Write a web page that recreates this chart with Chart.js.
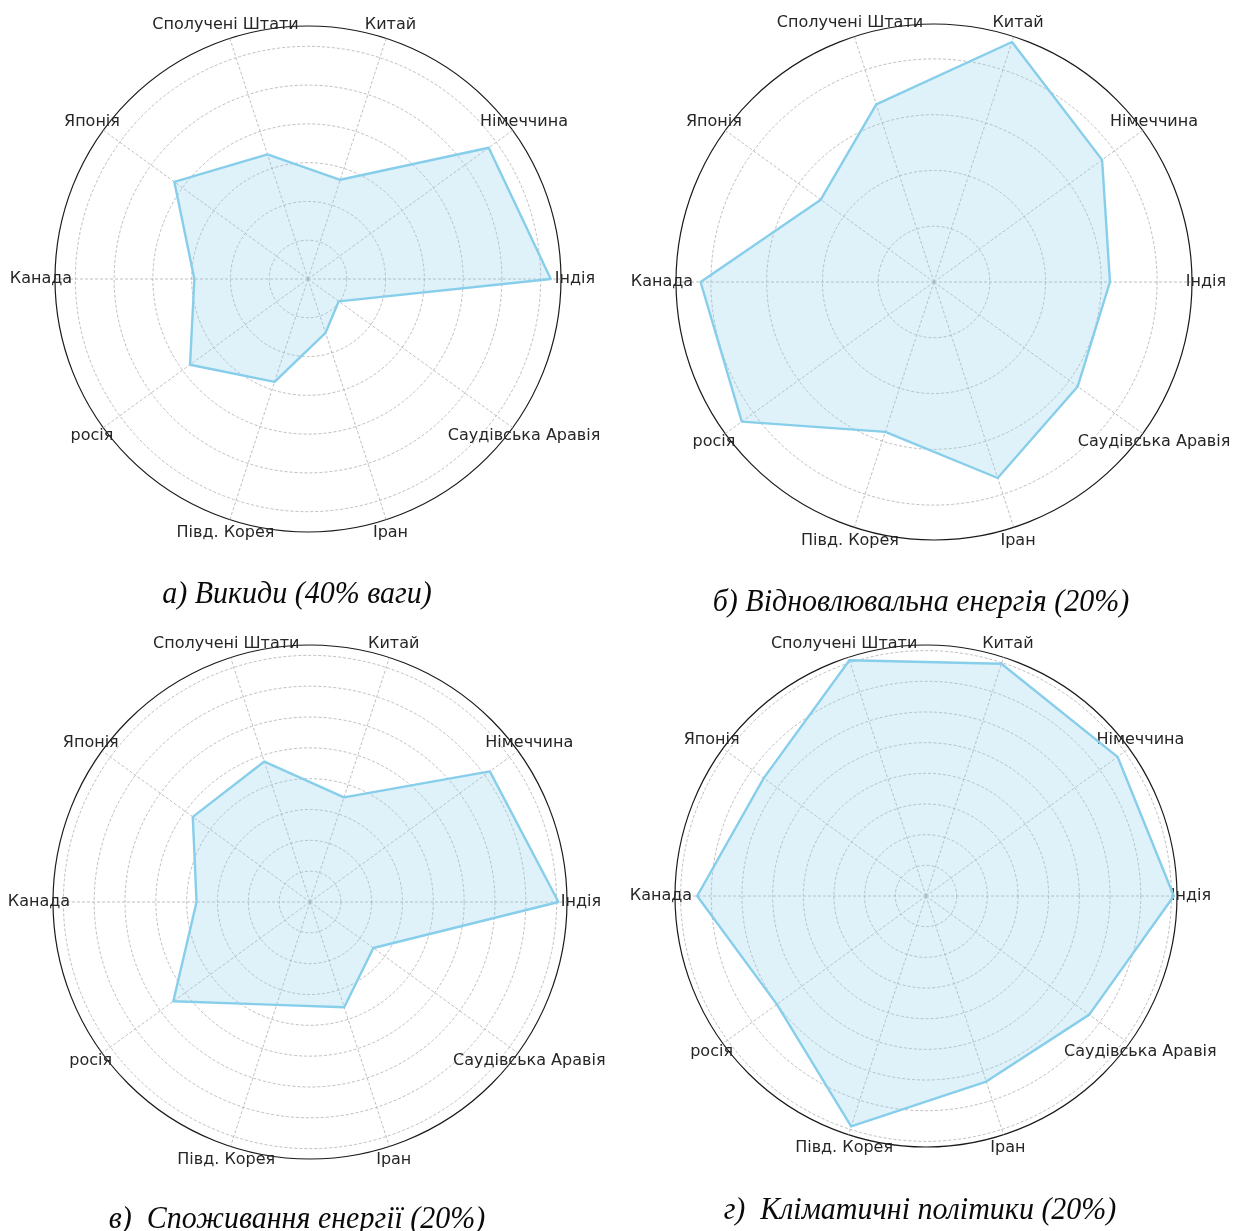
<!DOCTYPE html>
<html lang="uk">
<head>
<meta charset="utf-8">
<title>Кліматичні показники країн</title>
<script src="https://cdn.jsdelivr.net/npm/chart.js@4.4.1/dist/chart.umd.min.js"></script>
<style>
  html, body { margin: 0; padding: 0; background: #ffffff; }
  body { width: 1234px; height: 1231px; position: relative; overflow: hidden; }
  canvas { position: absolute; }
  .caption {
    position: absolute;
    font-family: 'Liberation Serif', 'Times New Roman', serif;
    font-style: italic;
    font-size: 30px;
    line-height: 30px;
    color: #0a0a0a;
    white-space: pre;
    transform-origin: 50% 83%;
    transform: translateX(-50%) scaleY(1.06);
  }
</style>
</head>
<body>
<canvas id="chartA" width="620" height="620"></canvas>
<canvas id="chartB" width="614" height="620"></canvas>
<canvas id="chartC" width="620" height="611"></canvas>
<canvas id="chartD" width="614" height="611"></canvas>
<div class="caption" id="capA"></div>
<div class="caption" id="capB"></div>
<div class="caption" id="capC"></div>
<div class="caption" id="capD"></div>
<script>
// Countries, counter-clockwise starting from the right-hand axis
const countries = ['Індія', 'Німеччина', 'Китай', 'Сполучені Штати', 'Японія',
                   'Канада', 'росія', 'Півд. Корея', 'Іран', 'Саудівська Аравія'];

// Normalised scores per criterion (same order as countries)
const emissions   = [0.626, 0.576, 0.269, 0.338, 0.426, 0.293, 0.376, 0.279, 0.146, 0.098];
const renewables  = [0.631, 0.745, 0.905, 0.670, 0.502, 0.837, 0.852, 0.565, 0.739, 0.637];
const consumption = [0.806, 0.721, 0.357, 0.479, 0.470, 0.368, 0.548, 0.351, 0.359, 0.254];
const policies    = [0.808, 0.772, 0.796, 0.808, 0.654, 0.746, 0.601, 0.790, 0.636, 0.658];

// Radial grid rings for each panel
const ringsA = [0.1, 0.2, 0.3, 0.4, 0.5, 0.6];
const ringsB = [0.2, 0.4, 0.6, 0.8];
const ringsC = [0.1, 0.2, 0.3, 0.4, 0.5, 0.6, 0.7, 0.8];
const ringsD = [0.1, 0.2, 0.3, 0.4, 0.5, 0.6, 0.7, 0.8];

const captions = ['а) Викиди (40% ваги)',
                  'б) Відновлювальна енергія (20%)',
                  'в)  Споживання енергії (20%)',
                  'г)  Кліматичні політики (20%)'];

// Chart.js walks the categories clockwise; keep the first axis on the right
// and run the remaining ones the other way round.
function clockwise(arr) {
  return [arr[0]].concat(arr.slice(1).reverse());
}

const LINE = '#87CEEB';
const FILL = 'rgba(135, 206, 235, 0.27)';
const GRID = 'rgba(170, 170, 170, 0.75)';
const SPINE = '#1a1a1a';

// Category names around the rim, centred just outside the outer circle
const rimLabels = {
  id: 'rimLabels',
  beforeDatasetsDraw(chart) {
    const scale = chart.scales.r;
    const ctx = chart.ctx;
    ctx.save();
    ctx.font = '16px "DejaVu Sans"';
    ctx.fillStyle = '#262626';
    ctx.textAlign = 'center';
    ctx.textBaseline = 'middle';
    chart.data.labels.forEach((label, i) => {
      const p = scale.getPointPosition(i, scale.drawingArea + 14);
      ctx.fillText(label, p.x, p.y);
    });
    ctx.restore();
  }
};

function drawPanel(canvasId, frame, values, rings) {
  const canvas = document.getElementById(canvasId);
  canvas.style.left = frame.left + 'px';
  canvas.style.top = frame.top + 'px';

  const vMax = Math.max(...values);
  const vMin = Math.min(...values);
  const rMax = vMax + 0.05 * (vMax - vMin);

  return new Chart(canvas, {
    type: 'radar',
    data: {
      labels: clockwise(countries),
      datasets: [{
        data: clockwise(values),
        borderColor: LINE,
        backgroundColor: FILL,
        borderWidth: 2.4,
        borderJoinStyle: 'round',
        fill: true,
        pointRadius: 0,
        pointHoverRadius: 0,
        tension: 0
      }]
    },
    options: {
      responsive: false,
      animation: false,
      events: [],
      layout: {
        padding: {
          left: frame.cx - frame.R,
          top: frame.cy - frame.R,
          right: frame.w - (frame.cx + frame.R),
          bottom: frame.h - (frame.cy + frame.R)
        }
      },
      plugins: { legend: { display: false }, tooltip: { enabled: false } },
      scales: {
        r: {
          min: 0,
          max: rMax,
          startAngle: 90,
          afterBuildTicks(scale) {
            scale.ticks = [{ value: 0 }]
              .concat(rings.map(v => ({ value: v })))
              .concat([{ value: rMax }]);
          },
          ticks: { display: false },
          pointLabels: { display: false },
          grid: {
            circular: true,
            color: (c) => c.index === c.scale.ticks.length - 1 ? SPINE : GRID,
            lineWidth: (c) => c.index === c.scale.ticks.length - 1 ? 1.2 : 1
          },
          border: {
            dash: (c) => c.index === c.scale.ticks.length - 1 ? [] : [3, 2]
          },
          angleLines: {
            color: GRID,
            lineWidth: 1,
            borderDash: [3, 2]
          }
        }
      }
    },
    plugins: [rimLabels]
  });
}

drawPanel('chartA', { left: 0,   top: 0,   w: 620, h: 620, cx: 308, cy: 279, R: 253 }, emissions,   ringsA);
drawPanel('chartB', { left: 620, top: 0,   w: 614, h: 620, cx: 314, cy: 282, R: 258 }, renewables,  ringsB);
drawPanel('chartC', { left: 0,   top: 620, w: 620, h: 611, cx: 310, cy: 282, R: 257 }, consumption, ringsC);
drawPanel('chartD', { left: 620, top: 620, w: 614, h: 611, cx: 306, cy: 276, R: 251 }, policies,    ringsD);

// Panel captions (centre x, baseline y)
const captionSpots = [[297, 603], [921, 611], [297, 1228], [920, 1219]];
['capA', 'capB', 'capC', 'capD'].forEach((id, i) => {
  const el = document.getElementById(id);
  el.textContent = captions[i];
  el.style.left = captionSpots[i][0] + 'px';
  el.style.top = (captionSpots[i][1] - 25) + 'px';
});
</script>
</body>
</html>
